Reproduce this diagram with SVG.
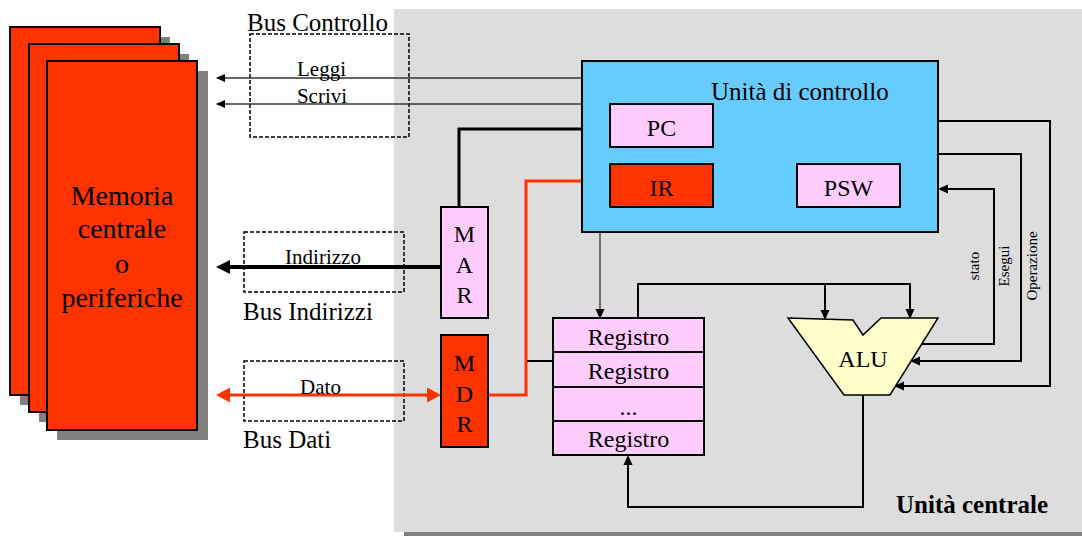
<svg xmlns="http://www.w3.org/2000/svg" width="1082" height="536" viewBox="0 0 1082 536">
<style>
text{font-family:"Liberation Serif","Times New Roman",serif;fill:#000}
.t25{font-size:25px}
.t24{font-size:24px}
.t21{font-size:21px}
.t15{font-size:15px}
.mid{text-anchor:middle}
.box{stroke:#000;stroke-width:2}
.pink{fill:#FFCCFF}
.red{fill:#FF3300}
.shadow{fill:#808080}
.dash{fill:none;stroke:#000;stroke-width:1.5;stroke-dasharray:4 2}
.ln{fill:none;stroke:#000;stroke-width:2}
.thin{fill:none;stroke:#333;stroke-width:1.3}
</style>
<defs>
<marker id="aS" markerUnits="userSpaceOnUse" markerWidth="9" markerHeight="8" viewBox="0 0 9 8" refX="8" refY="4" orient="auto"><path d="M0,0 L9,4 L0,8 z" fill="#000"/></marker>
<marker id="aM" markerUnits="userSpaceOnUse" markerWidth="10" markerHeight="10" viewBox="0 0 10 10" refX="8" refY="5" orient="auto"><path d="M0,0.5 L10,5 L0,9.5 z" fill="#000"/></marker>
<marker id="aT" markerUnits="userSpaceOnUse" markerWidth="14" markerHeight="14" viewBox="0 0 14 14" refX="4" refY="7" orient="auto"><path d="M0,0 L14,7 L0,14 z" fill="#000"/></marker>
<marker id="aR" markerUnits="userSpaceOnUse" markerWidth="14" markerHeight="15" viewBox="0 0 14 15" refX="4" refY="7.5" orient="auto-start-reverse"><path d="M0,0 L14,7.5 L0,15 z" fill="#FF3300"/></marker>
</defs>

<g id="unita-centrale">
<rect x="404" y="19" width="678" height="517" class="shadow"/>
<rect x="394" y="9" width="688" height="523" fill="#DDDDDD"/>
<text x="896" y="513" class="t25" font-weight="bold">Unità centrale</text>
</g>

<g id="memoria">
<rect x="20" y="37" width="150" height="368" class="shadow"/>
<rect x="10" y="27" width="150" height="368" class="red box"/>
<rect x="39" y="54" width="150" height="368" class="shadow"/>
<rect x="29" y="44" width="150" height="368" class="red box"/>
<rect x="57" y="71" width="151" height="369" class="shadow"/>
<rect x="47" y="61" width="150" height="369" class="red box"/>
<text class="mid" font-size="28" x="122" y="205">Memoria</text>
<text class="mid" font-size="28" x="122" y="238">centrale</text>
<text class="mid" font-size="28" x="122" y="273">o</text>
<text class="mid" font-size="28" x="122" y="307">periferiche</text>
</g>

<g id="bus-controllo">
<text x="247" y="31" class="t25">Bus Controllo</text>
<rect x="250" y="34" width="159" height="103" class="dash"/>
</g>
<g id="bus-indirizzi">
<rect x="244" y="232" width="160" height="60" class="dash"/>
<text x="243" y="320" class="t25">Bus Indirizzi</text>
</g>
<g id="bus-dati">
<rect x="244" y="361" width="160" height="60" class="dash"/>
<text x="243" y="448" class="t25">Bus Dati</text>
</g>

<g id="connectors">
<line x1="582" y1="78" x2="217" y2="78" class="thin" marker-end="url(#aS)"/>
<line x1="582" y1="104" x2="217" y2="104" class="thin" marker-end="url(#aS)"/>
<line x1="441" y1="267" x2="226" y2="267" stroke="#000" stroke-width="4" marker-end="url(#aT)"/>
<line x1="226" y1="395" x2="431" y2="395" stroke="#FF3300" stroke-width="3" marker-start="url(#aR)" marker-end="url(#aR)"/>
<polyline points="459,207 459,129 582,129" fill="none" stroke="#000" stroke-width="3"/>
<polyline points="582,181 526,181 526,395 488,395" fill="none" stroke="#FF3300" stroke-width="3"/>
<line x1="527" y1="361" x2="553" y2="361" class="ln"/>
<line x1="600" y1="232" x2="600" y2="317" class="thin" marker-end="url(#aM)"/>
<polyline points="638,318 638,284 910,284 910,317" class="ln" marker-end="url(#aM)"/>
<line x1="825" y1="284" x2="825" y2="318" class="ln" marker-end="url(#aM)"/>
<polyline points="863,395 863,507 628,507 628,457" class="ln" marker-end="url(#aM)"/>
<polyline points="938,121 1050,121 1050,386 896,386" class="ln" marker-end="url(#aM)"/>
<polyline points="938,154 1021,154 1021,361 912,361" class="ln" marker-end="url(#aM)"/>
<polyline points="921,344 994,344 994,189 940,189" class="ln" marker-end="url(#aM)"/>
<text x="321.5" y="76" class="t21 mid">Leggi</text>
<text x="322" y="103" class="t21 mid">Scrivi</text>
<text x="323" y="264" class="t21 mid">Indirizzo</text>
<text x="320.5" y="394" class="t21 mid">Dato</text>
<text class="t15 mid" transform="translate(979,266) rotate(-90)">stato</text>
<text class="t15 mid" transform="translate(1009,266) rotate(-90)">Esegui</text>
<text class="t15 mid" transform="translate(1037,266) rotate(-90)">Operazione</text>
</g>

<g id="unita-controllo">
<rect x="582" y="61" width="356" height="171" fill="#66CCFF" class="box"/>
<text x="711" y="100" class="t25">Unità di controllo</text>
</g>
<g id="PC">
<rect x="610" y="104" width="103" height="43" class="pink box"/>
<text x="661.5" y="136" class="t24 mid">PC</text>
</g>
<g id="IR">
<rect x="610" y="164" width="103" height="43" class="red box"/>
<text x="661.5" y="196" class="t24 mid">IR</text>
</g>
<g id="PSW">
<rect x="797" y="164" width="103" height="43" class="pink box"/>
<text x="848.5" y="196" class="t24 mid">PSW</text>
</g>

<g id="MAR">
<rect x="441" y="207" width="47" height="111" class="pink box"/>
<text x="464.5" y="242" class="t24 mid">M</text>
<text x="464.5" y="273" class="t24 mid">A</text>
<text x="464.5" y="303" class="t24 mid">R</text>
</g>
<g id="MDR">
<rect x="441" y="335" width="47" height="112" class="red box"/>
<text x="464.5" y="371" class="t24 mid">M</text>
<text x="464.5" y="402" class="t24 mid">D</text>
<text x="464.5" y="432" class="t24 mid">R</text>
</g>

<g id="registri">
<rect x="553" y="318" width="151" height="137" class="pink box"/>
<line x1="553" y1="352" x2="704" y2="352" class="ln"/>
<line x1="553" y1="387" x2="704" y2="387" class="ln"/>
<line x1="553" y1="421" x2="704" y2="421" class="ln"/>
<text x="628.5" y="345" class="t24 mid">Registro</text>
<text x="628.5" y="379" class="t24 mid">Registro</text>
<text x="628.5" y="415" class="t24 mid">...</text>
<text x="628.5" y="447" class="t24 mid">Registro</text>
</g>

<g id="ALU">
<polygon points="788,318 853,320 863,335 881,318 938,318 890,395 844,395" fill="#FFFFCC" stroke="#000" stroke-width="1.5"/>
<text x="863" y="367" class="t24 mid">ALU</text>
</g>
</svg>
